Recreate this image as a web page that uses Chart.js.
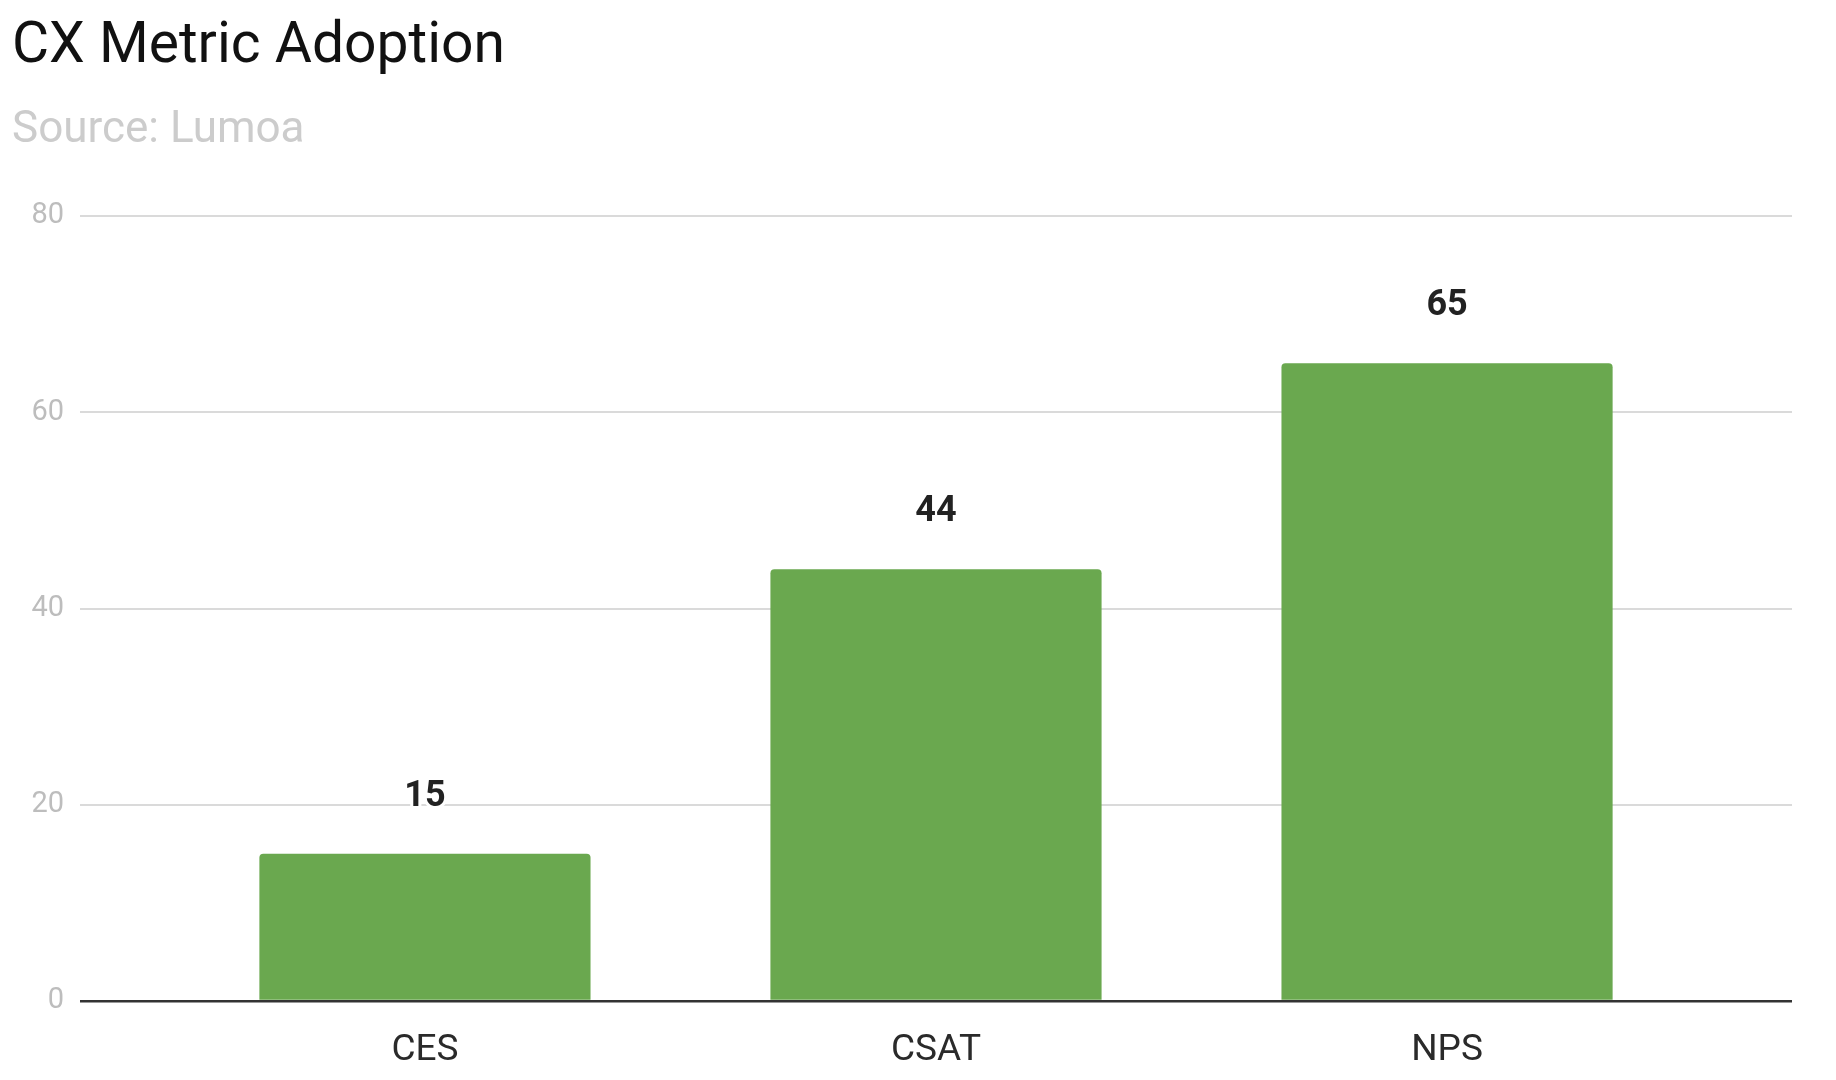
<!DOCTYPE html>
<html>
<head>
<meta charset="utf-8">
<style>
  html, body { margin: 0; padding: 0; background: #fff; }
  #wrap { width: 1836px; height: 1080px; }
</style>
<script src="https://cdn.jsdelivr.net/npm/chart.js@4/dist/chart.umd.min.js"></script>
</head>
<body>
<div id="wrap"><canvas id="chart" width="1836" height="1080"></canvas></div>
<script>
const categories = ['CES', 'CSAT', 'NPS'];
const adoption = [15, 44, 65];
const yTicks = [0, 20, 40, 60, 80];

// value labels above bars
const barLabels = {
  id: 'barLabels',
  afterDatasetsDraw(chart) {
    const ctx = chart.ctx;
    const meta = chart.getDatasetMeta(0);
    ctx.save();
    ctx.font = 'bold 36px Roboto';
    ctx.textAlign = 'center';
    ctx.textBaseline = 'alphabetic';
    ctx.lineJoin = 'round';
    meta.data.forEach((bar, i) => {
      const txt = String(adoption[i]);
      ctx.strokeStyle = '#fff';
      ctx.lineWidth = 6;
      ctx.strokeText(txt, bar.x, bar.y - 48);
      ctx.fillStyle = '#222';
      ctx.fillText(txt, bar.x, bar.y - 48);
    });
    ctx.restore();
  }
};

new Chart(document.getElementById('chart'), {
  type: 'bar',
  data: {
    datasets: [{
      data: adoption.map((v, i) => ({ x: i, y: v })),
      backgroundColor: '#6aa84f',
      borderRadius: { topLeft: 4, topRight: 4 },
      borderSkipped: 'start',
      barPercentage: 0.648,
      categoryPercentage: 1
    }]
  },
  options: {
    responsive: false,
    animation: false,
    layout: { padding: { left: 12, right: 44, top: 0, bottom: 0 } },
    plugins: {
      legend: { display: false },
      tooltip: { enabled: false },
      title: {
        display: true,
        text: 'CX Metric Adoption',
        align: 'start',
        color: '#111',
        font: { family: 'Roboto', size: 57, weight: 'normal' },
        padding: { top: 14, bottom: 0 }
      },
      subtitle: {
        display: true,
        text: 'Source: Lumoa',
        align: 'start',
        color: '#cccccc',
        font: { family: 'Roboto', size: 44, weight: 'normal' },
        padding: { top: 22, bottom: 59 }
      }
    },
    scales: {
      x: {
        type: 'linear',
        offset: false,
        min: -0.675,
        max: 2.675,
        afterBuildTicks(scale) {
          scale.ticks = categories.map((c, i) => ({ value: i }));
        },
        afterFit(scale) { scale.height = 79; },
        grid: { display: false },
        border: { display: false },
        ticks: {
          callback: (v) => categories[v],
          color: '#2a2a2a',
          padding: 20,
          font: { family: 'Roboto', size: 37 }
        }
      },
      y: {
        min: 0,
        max: 80,
        afterBuildTicks(scale) {
          scale.ticks = yTicks.map(v => ({ value: v }));
        },
        afterFit(scale) { scale.width = 68; },
        border: { display: false },
        grid: {
          drawTicks: false,
          lineWidth: (c) => c.tick && c.tick.value === 0 ? 2.5 : 2,
          color: (c) => c.tick && c.tick.value === 0 ? '#333' : '#dadada'
        },
        ticks: {
          color: '#bdbdbd',
          padding: 16,
          font: { family: 'Roboto', size: 29 }
        }
      }
    }
  },
  plugins: [barLabels]
});
</script>
</body>
</html>
